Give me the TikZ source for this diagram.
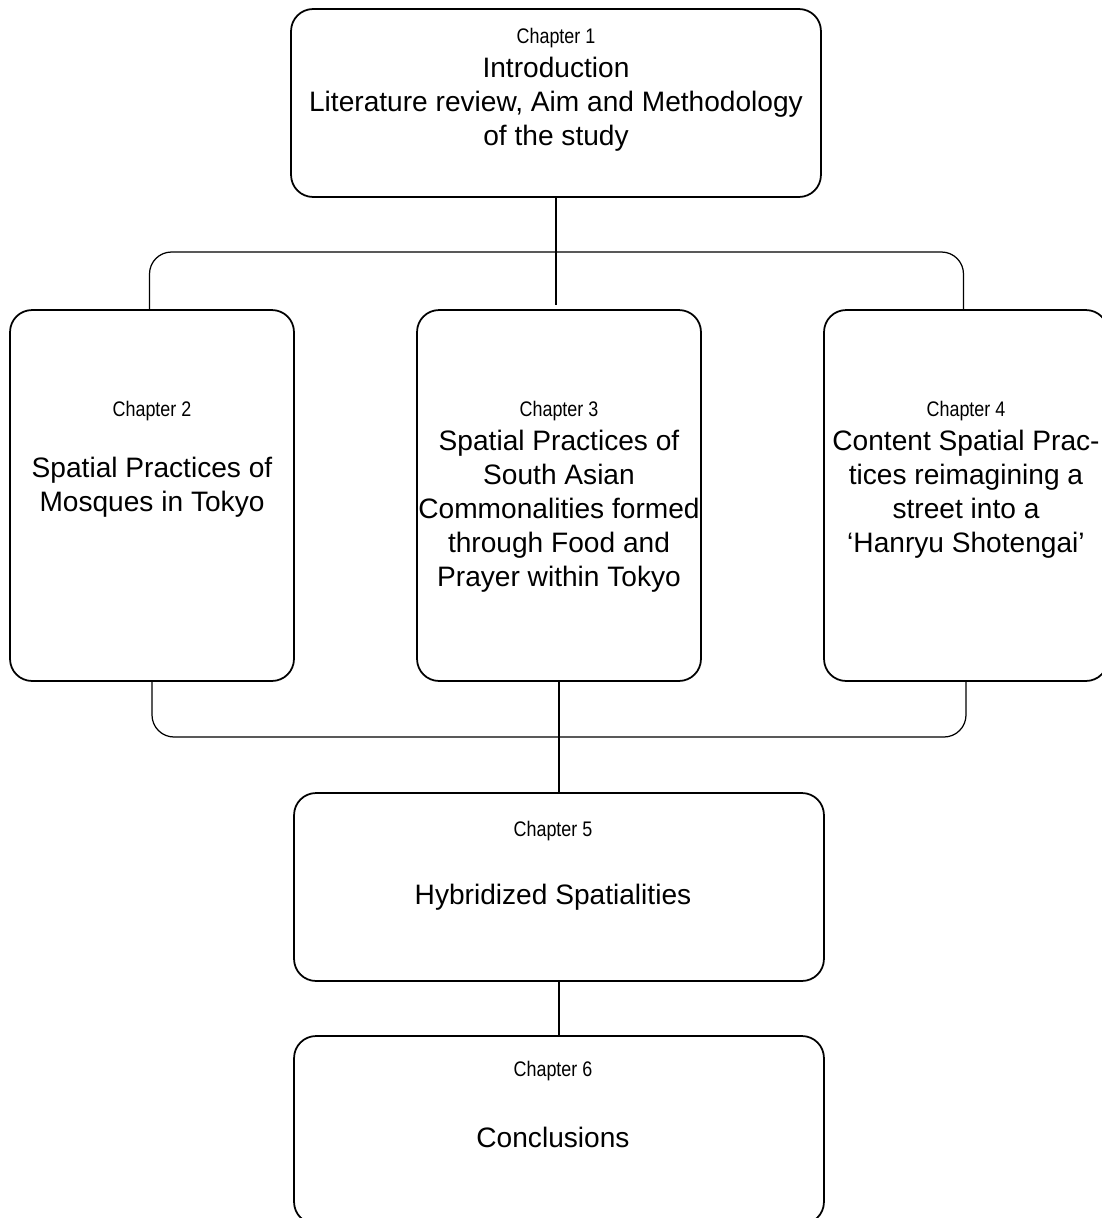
\documentclass[tikz,border=0pt]{standalone}
\usepackage{fontspec}
\setmainfont{Liberation Sans}
\newfontfamily\chapfont[FakeStretch=0.85]{Liberation Sans}
\usetikzlibrary{positioning}
\tikzset{
	chapbox/.style={draw, line width=1pt, rounded corners=0.44cm, inner sep=0pt},
	widebox/.style={chapbox, minimum width=10.6cm, minimum height=3.76cm},
	tallbox/.style={chapbox, minimum width=5.68cm, minimum height=7.42cm},
	chaplabel/.style={font=\chapfont\fontsize{12}{14}\selectfont, inner sep=0pt},
	chaptitle/.style={font=\fontsize{16}{19.3}\selectfont, align=center, inner sep=0pt},
	link/.style={line width=0.7pt}
}
\begin{document}
\begin{tikzpicture}[x=0.02cm, y=-0.02cm]
		%%%%% START %%%%%
		\clip (0, 0) rectangle (1102, 1218);
		\useasboundingbox (0, 0) rectangle (1102, 1218);
		
		\node[widebox] (ch1) at (556, 103) {};
		\node[tallbox] (ch2) at (152, 495.5) {};
		\node[tallbox] (ch3) at (559, 495.5) {};
		\node[tallbox] (ch4) at (966, 495.5) {};
		\node[widebox] (ch5) at (559, 887) {};
		\node[widebox] (ch6) at (559, 1130) {};
		
		\node[chaplabel] (lab1) at (556, 38) {Chapter 1};
		\node[chaptitle] (tit1) at (556, 104) {Introduction\\Literature review, Aim and Methodology\\of the study};
		
		\node[chaplabel] (lab2) at (152, 411) {Chapter 2};
		\node[chaptitle] (tit2) at (152, 487) {Spatial Practices of\\Mosques in Tokyo};
		
		\node[chaplabel] (lab3) at (559, 411) {Chapter 3};
		\node[chaptitle] (tit3) at (559, 511) {Spatial Practices of\\South Asian\\Commonalities formed\\through Food and\\Prayer within Tokyo};
		
		\node[chaplabel] (lab4) at (966, 411) {Chapter 4};
		\node[chaptitle] (tit4) at (966, 494) {Content Spatial Prac-\\tices reimagining a\\street into a\\`Hanryu Shotengai'};
		
		\node[chaplabel] (lab5) at (553, 831) {Chapter 5};
		\node[chaptitle] (tit5) at (553, 897) {Hybridized Spatialities};
		
		\node[chaplabel] (lab6) at (553, 1071) {Chapter 6};
		\node[chaptitle] (tit6) at (553, 1137) {Conclusions};
		
		% connectors
		\coordinate (split) at (556, 305);
		\coordinate (topbar) at (556, 252);
		\coordinate (botbar) at (559, 737);
		\draw[link] (ch1.south) -- (split);
		\draw[link, rounded corners=0.44cm] ([xshift=-0.05cm]ch2.north) |- (topbar) -| ([xshift=-0.05cm]ch4.north);
		\draw[link, rounded corners=0.44cm] (ch2.south) |- (botbar) -| (ch4.south);
		\draw[link] (ch3.south) -- (ch5.north);
		\draw[link] (ch5.south) -- (ch6.north);
		
		%%%%% END %%%%%
	\end{tikzpicture}
\end{document}
